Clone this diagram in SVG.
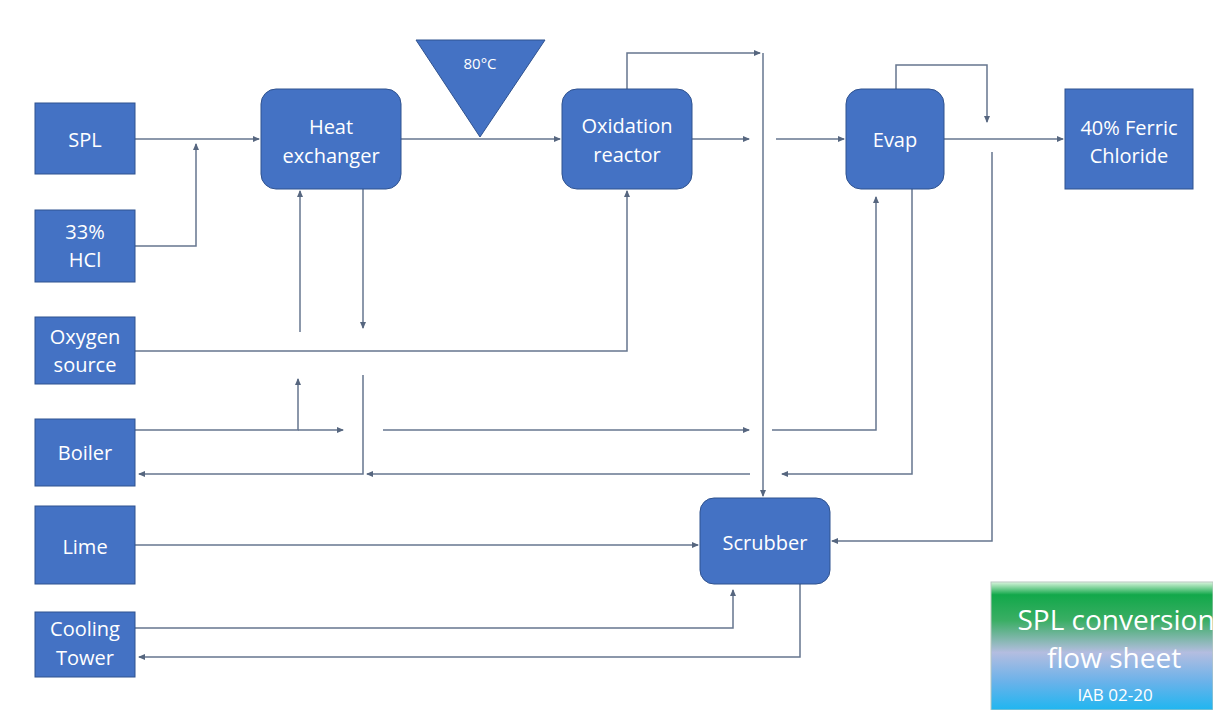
<svg xmlns="http://www.w3.org/2000/svg" width="1213" height="710" viewBox="0 0 1213 710">
<style>
.n{fill:#4472C4;stroke:#2f528f;stroke-width:1}
.t{fill:#ffffff;font-family:"Open Sans","Liberation Sans",sans-serif;font-size:20px;text-anchor:middle}
.c{fill:none;stroke:#66768f;stroke-width:1.5}
.a{marker-end:url(#ah)}
.tt{fill:#ffffff;font-family:"Open Sans","Liberation Sans",sans-serif;text-anchor:middle}
</style>
<defs>
<marker id="ah" markerWidth="7" markerHeight="7" refX="6" refY="3.5" orient="auto" markerUnits="userSpaceOnUse">
<path d="M0,0.5 L7,3.5 L0,6.5 Z" fill="#56667f"/>
</marker>
<linearGradient id="tg" x1="0" y1="0" x2="0" y2="1">
<stop offset="0" stop-color="#d8f5dc"/>
<stop offset="0.1" stop-color="#12a84a"/>
<stop offset="0.3" stop-color="#3aae64"/>
<stop offset="0.55" stop-color="#b4bde0"/>
<stop offset="0.78" stop-color="#6ab2ea"/>
<stop offset="1" stop-color="#1fb6f0"/>
</linearGradient>
</defs>
<rect width="1213" height="710" fill="#ffffff"/>
<g id="connectors">
<path class="c a" d="M135,139 H259"/>
<path class="c a" d="M135,246 H196 V144"/>
<path class="c a" d="M401,139 H560"/>
<path class="c a" d="M692,139 H749"/>
<path class="c a" d="M776,139 H844"/>
<path class="c a" d="M627,89 V53 H760"/>
<path class="c a" d="M763,53 V496"/>
<path class="c a" d="M135,351 H627 V191"/>
<path class="c a" d="M896,89 V65 H987 V122"/>
<path class="c a" d="M944,139 H1063"/>
<path class="c a" d="M992,152 V541 H832"/>
<path class="c a" d="M135,430 H298 V379"/>
<path class="c a" d="M298,430 H343"/>
<path class="c a" d="M383,430 H749"/>
<path class="c a" d="M772,430 H876 V197"/>
<path class="c a" d="M300,332 V191"/>
<path class="c a" d="M363,189 V328"/>
<path class="c a" d="M912,189 V474 H782"/>
<path class="c a" d="M750,474 H367"/>
<path class="c a" d="M363,375 V474 H139"/>
<path class="c a" d="M135,545 H698"/>
<path class="c a" d="M135,628 H733 V590"/>
<path class="c a" d="M800,584 V657 H139"/>
</g>
<g id="spl"><rect class="n" x="35" y="103" width="100" height="71"/><text class="t" x="85" y="147">SPL</text></g>
<g id="hcl"><rect class="n" x="35" y="210" width="100" height="72"/><text class="t" x="85" y="239">33%</text><text class="t" x="85" y="267">HCl</text></g>
<g id="heat-exchanger"><rect class="n" x="261" y="89" width="140" height="100" rx="15"/><text class="t" x="331" y="134">Heat</text><text class="t" x="331" y="163">exchanger</text></g>
<g id="temp"><path class="n" d="M416,40 H545 L480,137 Z"/><text class="t" x="480" y="69" style="font-size:15px">80°C</text></g>
<g id="oxidation-reactor"><rect class="n" x="562" y="89" width="130" height="100" rx="15"/><text class="t" x="627" y="133">Oxidation</text><text class="t" x="627" y="162">reactor</text></g>
<g id="evap"><rect class="n" x="846" y="89" width="98" height="100" rx="15"/><text class="t" x="895" y="147">Evap</text></g>
<g id="ferric-chloride"><rect class="n" x="1065" y="89" width="128" height="100"/><text class="t" x="1129" y="135">40% Ferric</text><text class="t" x="1129" y="163">Chloride</text></g>
<g id="oxygen-source"><rect class="n" x="35" y="317" width="100" height="67"/><text class="t" x="85" y="344">Oxygen</text><text class="t" x="85" y="372">source</text></g>
<g id="boiler"><rect class="n" x="35" y="419" width="100" height="67"/><text class="t" x="85" y="460">Boiler</text></g>
<g id="lime"><rect class="n" x="35" y="506" width="100" height="78"/><text class="t" x="85" y="554">Lime</text></g>
<g id="cooling-tower"><rect class="n" x="35" y="612" width="100" height="65"/><text class="t" x="85" y="636">Cooling</text><text class="t" x="85" y="665">Tower</text></g>
<g id="scrubber"><rect class="n" x="700" y="498" width="130" height="86" rx="14"/><text class="t" x="765" y="550">Scrubber</text></g>
<g id="title"><rect x="991" y="582" width="222" height="128" fill="url(#tg)" stroke="#b8c8c0" stroke-width="1"/>
<text class="tt" x="1116" y="630" style="font-size:28px">SPL conversion</text>
<text class="tt" x="1114" y="668" style="font-size:28px">flow sheet</text>
<text class="tt" x="1115" y="701" style="font-size:17px">IAB 02-20</text></g>
</svg>
